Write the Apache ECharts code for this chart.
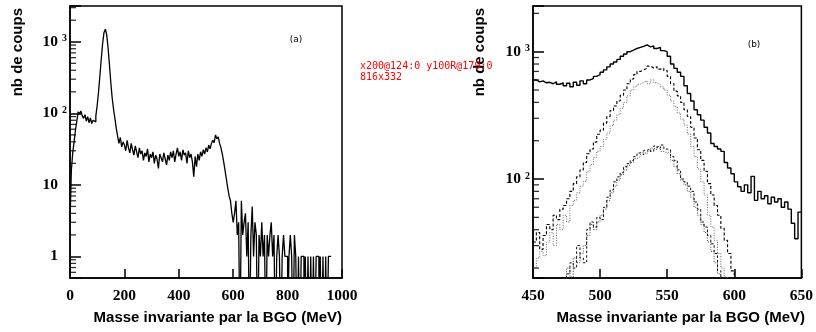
<!DOCTYPE html>
<html><head><meta charset="utf-8">
<script src="https://cdn.jsdelivr.net/npm/echarts@6/dist/echarts.min.js"></script>
<style>html,body{margin:0;padding:0;background:#fff}#c{width:816px;height:332px}#dbg{position:absolute;left:360px;top:60px;font:10px monospace;color:red;width:160px}</style>
</head><body><div id="c"></div><div id="dbg"></div>
<script>
// ---------- data ----------
const leftBinStart = 0;
const leftBinWidth = 5; // MeV
const leftCounts = [
  3,16,28,40,58,78,105,98,108,92,
  85,96,78,90,74,86,72,80,76,92,
  130,200,340,580,950,1350,1500,1250,820,480,
  270,165,115,85,62,48,38,46,34,40,
  36,30,42,33,28,38,31,26,35,29,
  24,33,27,30,22,28,25,32,21,27,
  24,29,20,26,23,17,27,24,21,28,
  23,19,26,22,29,24,30,21,27,33,
  25,29,22,31,26,28,20,30,24,27,
  21,13,25,18,27,22,29,25,31,27,
  33,29,36,32,38,42,39,50,44,47,
  38,33,27,21,16,12,9,7,6,4,
  3,4,6,2,3,0,6,2,3,4,
  1,3,0,2,5,1,3,2,0,2,
  1,3,1,2,0,2,1,2,3,1,
  2,0,1,2,1,0,1,2,1,1,
  0,1,2,1,0,2,1,0,1,0,
  1,1,0,1,0,1,0,1,0,1,
  0,1,1,0,1,0,1,0,1,0,
  1,1
];
const rightBinStart = 450;
const rightBinWidth = 2.5; // MeV
const rightTotal = [
  600,580,590,570,575,560,580,555,570,540,
  565,530,575,545,590,560,600,615,640,660,
  690,720,760,800,830,870,920,960,1000,1030,
  1060,1080,1100,1130,1090,1110,1060,1080,1020,1000,
  920,800,740,690,640,540,470,410,350,320,
  290,255,230,190,180,172,165,135,122,110,
  95,87,80,90,78,105,68,80,70,74,
  64,72,66,70,60,66,58,45,34,55
];
const rightDashed = [
  32,38,28,36,44,40,52,48,58,62,
  70,80,92,104,118,135,158,172,195,225,
  242,275,310,345,375,410,455,500,560,610,
  660,700,720,740,770,745,760,730,740,710,
  640,560,490,450,400,350,310,255,210,170,
  140,115,92,75,62,52,41,33,26,19,
  0,0,0,0,0,0,0,0,0,0,
  0,0,0,0,0,0,0,0,0,0
];
const rightDotted = [
  20,24,27,25,32,38,30,44,40,52,
  46,62,68,78,88,96,115,130,148,165,
  180,205,230,262,290,320,360,400,450,500,
  530,555,575,590,560,600,570,550,530,500,
  455,410,370,330,295,265,225,180,150,120,
  95,75,52,42,33,26,20,17,0,0,
  0,0,0,0,0,0,0,0,0,0,
  0,0,0,0,0,0,0,0,0,0
];
const rightLowDashed = [
  0,0,0,0,0,0,0,0,0,0,
  18,22,20,30,24,22,40,46,42,50,
  48,60,72,82,95,104,112,125,132,140,
  150,160,155,168,172,165,182,175,185,172,
  170,150,140,118,100,95,88,80,66,58,
  46,42,36,31,26,19,0,0,0,0,
  0,0,0,0,0,0,0,0,0,0,
  0,0,0,0,0,0,0,0,0,0
];
const rightLowDotted = [
  0,0,0,0,0,0,0,0,0,0,
  20,17,24,22,26,30,36,44,40,46,
  52,58,68,78,88,98,108,118,128,135,
  145,150,162,158,165,175,170,180,165,160,
  162,140,125,110,98,90,80,72,60,52,
  44,38,32,27,22,18,0,0,0,0,
  0,0,0,0,0,0,0,0,0,0,
  0,0,0,0,0,0,0,0,0,0
];

const leftXRange = [0, 1000], leftXInterval = 200;
const leftYRange = [0.5, 3162];
const rightXRange = [450, 650], rightXInterval = 50;
const rightYRange = [16.7, 2285];
const leftYMinor = [0.6,0.7,0.8,0.9,2,3,4,5,6,7,8,9,20,30,40,50,60,70,80,90,
  200,300,400,500,600,700,800,900,2000,3000];
const rightYMinor = [20,30,40,50,60,70,80,90,200,300,400,500,600,700,800,900,2000];

const xTitle = 'Masse invariante par la BGO (MeV)';
const yTitle = 'nb de coups';
const panelTags = ['(a)', '(b)'];

function hist(start, w, arr, floor) {
  const d = arr.map((v, i) => [start + i * w, v > 0 ? v : floor]);
  const last = arr[arr.length - 1];
  d.push([start + arr.length * w, last > 0 ? last : floor]);
  return d;
}
function isPow10(v) { const l = Math.log10(v); return Math.abs(l - Math.round(l)) < 1e-6; }

const serif = 'Liberation Serif';
const rich = {
  b: { fontFamily: serif, fontWeight: 'bold', fontSize: 15.5, color: '#000' },
  s: { fontFamily: serif, fontWeight: 'bold', fontSize: 10, color: '#000', verticalAlign: 'top', padding: [0, 0, 0, 4] },
  p: { width: 9, fontSize: 10 }
};
function yFmt(v) {
  if (!isPow10(v)) return '';
  const n = Math.round(Math.log10(v));
  if (n === 0) return '{b|1}{p| }';
  if (n === 1) return '{b|10}{p| }';
  return '{b|10}{s|' + n + '}';
}
function xAxisCfg(gi, range, interval) {
  return {
    gridIndex: gi, type: 'value', min: range[0], max: range[1], interval: interval,
    axisLine: { show: true, lineStyle: { color: '#000', width: 1.5 } },
    axisTick: { show: true, inside: true, length: 9, lineStyle: { color: '#000', width: 1.5 } },
    axisLabel: { margin: 10, fontFamily: serif, fontWeight: 'bold', fontSize: 15.5, color: '#000',
      formatter: v => String(v) },
    splitLine: { show: false }
  };
}
function yAxisCfg(gi, range) {
  return {
    gridIndex: gi, type: 'log', logBase: 10, min: range[0], max: range[1],
    axisLine: { show: true, lineStyle: { color: '#000', width: 1.5 } },
    axisTick: { show: true, inside: true, length: 11, lineStyle: { color: '#000', width: 1.5 } },
    minorTick: { show: false }, splitLine: { show: false },
    axisLabel: { margin: 3, formatter: yFmt, rich: rich, color: '#000' }
  };
}
function tickSeries(gi, xmin, ticks, len) {
  return {
    type: 'scatter', xAxisIndex: gi, yAxisIndex: gi, silent: true, clip: false, z: 5,
    data: ticks.map(v => [xmin, v]),
    symbol: 'rect', symbolSize: [len, 1.3], symbolOffset: [len / 2, 0],
    itemStyle: { color: '#000' }
  };
}
function lineSeries(gi, data, color, width, type) {
  return {
    type: 'line', xAxisIndex: gi, yAxisIndex: gi, data: data, step: 'end',
    showSymbol: false, symbol: 'none', clip: true, silent: true,
    lineStyle: { color: color, width: width, type: type }
  };
}

const chart = echarts.init(document.getElementById('c'), null, { renderer: 'canvas' });
chart.setOption({
  animation: false,
  grid: [
    { left: 70, top: 6, width: 272, height: 272, show: true, borderColor: '#000', borderWidth: 1.5 },
    { left: 533, top: 6, width: 271, height: 272, show: true, borderColor: '#000', borderWidth: 1.5 }
  ],
  xAxis: [xAxisCfg(0, leftXRange, leftXInterval), xAxisCfg(1, rightXRange, rightXInterval)],
  yAxis: [yAxisCfg(0, leftYRange), yAxisCfg(1, rightYRange)],
  series: [
    tickSeries(0, leftXRange[0], leftYMinor, 6),
    tickSeries(1, rightXRange[0], rightYMinor, 6),
    lineSeries(0, hist(leftBinStart, leftBinWidth, leftCounts, 0.05), '#000', 1.3, 'solid'),
    lineSeries(1, hist(rightBinStart, rightBinWidth, rightLowDotted, 1), '#444', 1, [1, 1.5]),
    lineSeries(1, hist(rightBinStart, rightBinWidth, rightLowDashed, 1), '#111', 1, [2.5, 2]),
    lineSeries(1, hist(rightBinStart, rightBinWidth, rightDotted, 1), '#666', 1, [1, 1.5]),
    lineSeries(1, hist(rightBinStart, rightBinWidth, rightDashed, 1), '#000', 1.1, [3, 2]),
    lineSeries(1, hist(rightBinStart, rightBinWidth, rightTotal, 1), '#000', 1.4, 'solid')
  ],
  graphic: [
    { type: 'text', x: 342, y: 318, style: { text: xTitle, font: 'bold 15px "Liberation Sans"', fill: '#000', textAlign: 'right', textVerticalAlign: 'middle' } },
    { type: 'text', x: 805, y: 318, style: { text: xTitle, font: 'bold 15px "Liberation Sans"', fill: '#000', textAlign: 'right', textVerticalAlign: 'middle' } },
    { type: 'text', x: 18, y: 8, rotation: Math.PI / 2, style: { text: yTitle, font: 'bold 15px "Liberation Sans"', fill: '#000', textAlign: 'right', textVerticalAlign: 'middle' } },
    { type: 'text', x: 480, y: 8, rotation: Math.PI / 2, style: { text: yTitle, font: 'bold 15px "Liberation Sans"', fill: '#000', textAlign: 'right', textVerticalAlign: 'middle' } },
    { type: 'text', x: 296, y: 40, style: { text: panelTags[0], font: '9px "DejaVu Sans"', fill: '#000', textAlign: 'center', textVerticalAlign: 'middle' } },
    { type: 'text', x: 754, y: 45, style: { text: panelTags[1], font: '9px "DejaVu Sans"', fill: '#000', textAlign: 'center', textVerticalAlign: 'middle' } }
  ]
});
// diagnostic: sample canvas pixels where ticks should be
try {
  const cv = document.querySelector('#c canvas');
  const ctx = cv.getContext('2d');
  function px(x, y) { let m = 255; for (let dx = -1; dx <= 1; dx++) { const d = ctx.getImageData(x + dx, y, 1, 1).data; m = Math.min(m, d[0]); } return m; }
  const xs = chart.convertToPixel({ gridIndex: 0 }, [200, 1]);
  const ys = chart.convertToPixel({ gridIndex: 1 }, [450, 100]);
  document.getElementById('dbg').textContent =
    'x200@' + Math.round(xs[0]) + ':' + px(Math.round(xs[0]), 272) +
    ' y100R@' + Math.round(ys[1]) + ':' + px(540, Math.round(ys[1])) +
    ' ' + cv.width + 'x' + cv.height;
} catch (e) { document.getElementById('dbg').textContent = 'err ' + e.message; }
</script>
</body></html>
